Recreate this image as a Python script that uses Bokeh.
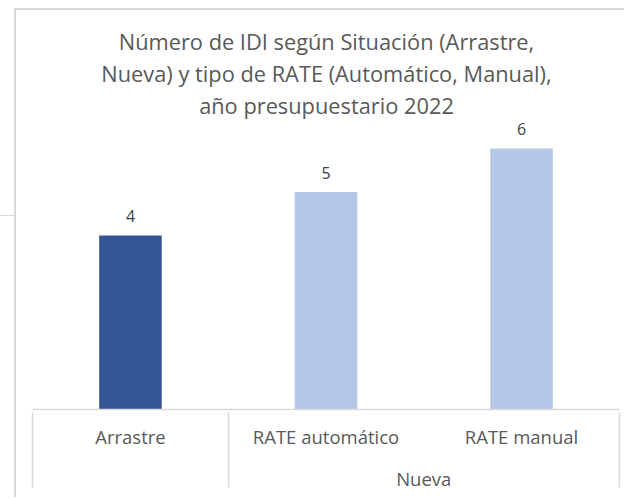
from bokeh.plotting import figure
from bokeh.models import FactorRange, Range1d, ColumnDataSource, LabelSet, Label, InlineStyleSheet
from bokeh.core.properties import value
from bokeh.embed import file_html
from bokeh.resources import INLINE

# ---------------- data ----------------
groups = ["", "Nueva", "Nueva"]
categories = ["Arrastre", "RATE automático", "RATE manual"]
values = [4, 5, 6]
bar_colors = ["#335593", "#B4C7E7", "#B4C7E7"]
title_lines = [
    "Número de IDI según Situación (Arrastre,",
    "Nueva) y tipo de RATE (Automático, Manual),",
    "año presupuestario 2022",
]

# ---------------- layout constants ----------------
W, H = 610, 489          # canvas size (chart border drawn by CSS around it)
BORDER_L, BORDER_R, BORDER_B = 16, 7, 90
PX_PER_UNIT = 43.5
GRID = "#D9D9D9"
TXT = "#595959"
FONT = "Open Sans"

factors = list(zip(groups, categories))
# invisible edge factors so the axis draws box lines at both ends of the categories
pad_l, pad_r = (" ", " "), ("  ", "  ")
axis_factors = [pad_l] + factors + [pad_r]

frame_h = H - BORDER_B
y_end = frame_h / PX_PER_UNIT

src = ColumnDataSource(dict(
    x=factors, top=values, color=bar_colors, label=[str(v) for v in values]
))

x_range = FactorRange(factors=axis_factors, factor_padding=0, group_padding=0,
                      subgroup_padding=0, range_padding=-0.999,
                      range_padding_units="absolute")

p = figure(
    width=W, height=H, title=None,
    x_range=x_range, y_range=Range1d(0, y_end),
    output_backend="svg", toolbar_location=None, y_axis_location=None,
    min_border_left=BORDER_L, min_border_right=BORDER_R,
    min_border_top=0, min_border_bottom=BORDER_B,
)
p.styles = {
    "margin-left": "14px", "margin-top": "8px",
    "border-left": "2px solid " + GRID, "border-top": "2px solid " + GRID,
}
p.stylesheets = [InlineStyleSheet(css=(
    ":host { position: relative; overflow: visible; }"
    ":host::before { content: ''; position: absolute; left: -16px; top: 204.5px;"
    " width: 14px; height: 1.5px; background: " + GRID + "; }"
))]
p.outline_line_color = None
p.xgrid.visible = False
p.ygrid.visible = False

ax = p.xaxis[0]
ax.axis_line_color = GRID
ax.axis_line_width = 1.5
ax.major_tick_line_color = None
ax.minor_tick_line_color = None
ax.major_tick_out = 0
ax.major_tick_in = 0
ax.major_label_standoff = 14
ax.major_label_text_font = FONT
ax.major_label_text_font_size = "18.5px"
ax.major_label_text_color = TXT
ax.group_text_font = FONT
ax.group_text_font_size = "18.5px"
ax.group_text_color = TXT
ax.group_text_font_style = "normal"
ax.separator_line_color = GRID
ax.separator_line_width = 1.5

p.vbar(x="x", top="top", width=0.32, color="color", line_color=None, source=src)

p.add_layout(LabelSet(x="x", y="top", text="label", source=src,
                      text_align="center", text_baseline="middle", y_offset=19.5,
                      text_font=value(FONT), text_font_size=value("16px"),
                      text_color="#404040"))

# title lines (screen units relative to the plot frame)
title_y = [368, 336, 304]
for t, ty in zip(title_lines, title_y):
    p.add_layout(Label(x=294, y=ty, x_units="screen", y_units="screen", text=t,
                       text_align="center", text_baseline="alphabetic",
                       text_font=FONT, text_font_size="21.8px", text_color=TXT))

open("out.html", "w").write(file_html(p, INLINE))
